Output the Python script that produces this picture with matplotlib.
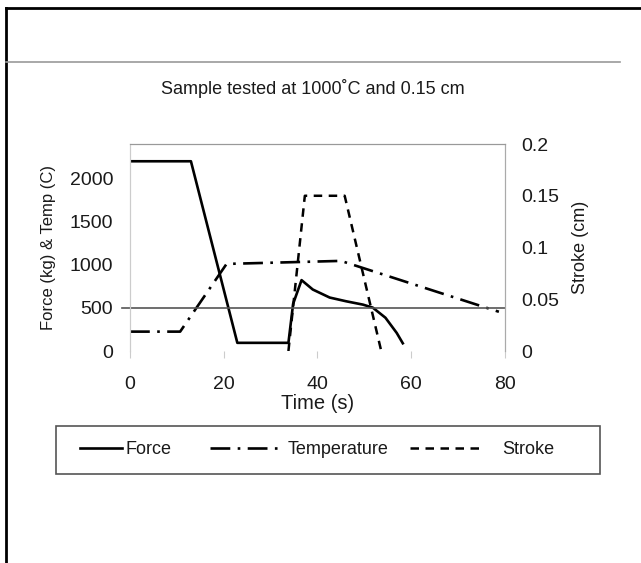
import matplotlib
matplotlib.use("Agg")
import matplotlib.pyplot as plt
from matplotlib.lines import Line2D
from matplotlib.patches import Rectangle

plt.rcParams['font.family'] = ['Liberation Sans', 'DejaVu Sans']

# data
force_t = [0, 13, 22.9, 33.8, 34.8, 36.6, 39, 42.6, 46.1, 49.7, 51.8, 54.5, 56.9, 58.2]
force_kg = [2200, 2200, 95, 95, 547, 822, 713, 620, 577, 538, 503, 386, 210, 90]

temp_t = [0, 10.7, 20.6, 45, 78.7]
temp_c = [225, 225, 1010, 1045, 455]

stroke_t = [33.8, 37.3, 45.8, 53.6]
stroke_cm = [0, 0.15, 0.15, 0]

left_ticks = [0, 500, 1000, 1500, 2000]
right_ticks = [0, 0.05, 0.1, 0.15, 0.2]
right_labels = ["0", "0.05", "0.1", "0.15", "0.2"]
x_ticks = [0, 20, 40, 60, 80]

txt = '#1a1a1a'

fig = plt.figure(figsize=(6.41, 5.63), dpi=100)
ax = fig.add_axes([0.2028, 0.3765, 0.585, 0.3677])
ax2 = ax.twinx()

l1, = ax.plot(force_t, force_kg, color='black', lw=1.9, label='Force')
l2, = ax.plot(temp_t, temp_c, color='black', lw=1.9, dashes=(7.5, 2.8, 1, 2.8),
              label='Temperature')
l3, = ax2.plot(stroke_t, stroke_cm, color='black', lw=1.8, dashes=(3.4, 2.6),
               label='Stroke')

# horizontal reference line at 500
ax.plot([-0.02, 1], [500 / 2400, 500 / 2400], transform=ax.transAxes,
        color='#555555', lw=1.2, clip_on=False)

ax.set_xlim(0, 80)
ax.set_ylim(0, 2400)
ax2.set_ylim(0, 0.2)
ax.set_xticks(x_ticks)
ax.set_yticks(left_ticks)
ax2.set_yticks(right_ticks)
ax2.set_yticklabels(right_labels)

for a in (ax, ax2):
    a.spines['bottom'].set_visible(False)
    a.spines['top'].set_color('#999999')
    a.spines['left'].set_color('#cccccc')
    a.spines['right'].set_color('#aaaaaa')
    a.set_facecolor('none')

ax.tick_params(axis='x', length=5, color='#cccccc', labelsize=14, pad=13,
               labelcolor=txt)
ax.tick_params(axis='y', length=0, labelsize=14, pad=12, labelcolor=txt)
ax2.tick_params(axis='y', length=0, labelsize=14, pad=12, labelcolor=txt)

ax.set_xlabel('Time (s)', fontsize=14.5, labelpad=1, color=txt)
ax.set_ylabel('Force (kg) & Temp (C)', fontsize=12, labelpad=10, color=txt)
ax2.set_ylabel('Stroke (cm)', fontsize=13, labelpad=9, color=txt)

fig.text(0.488, 0.843, 'Sample tested at 1000˚C and 0.15 cm', ha='center',
         va='center', fontsize=13, color=txt)

# legend: box drawn separately, entries placed like the Excel legend
fig.add_artist(Rectangle((0.0874, 0.158), 0.849, 0.085, transform=fig.transFigure,
                         facecolor='white', edgecolor='#555555', lw=1.2, zorder=1))
legend_items = [(l1, 'Force', 0.1255, 2.3, 0.2),
                (l2, 'Temperature', 0.327, 3.8, 0.5),
                (l3, 'Stroke', 0.64, 3.9, 1.2)]
for handle, name, xpos, hl, tp in legend_items:
    lg = fig.legend([handle], [name], loc='center left',
                    bbox_to_anchor=(xpos, 0.2015), fontsize=13,
                    handlelength=hl, handletextpad=tp, frameon=False,
                    borderpad=0, borderaxespad=0)
    lg.set_zorder(2)
    for t in lg.get_texts():
        t.set_color(txt)

# page border lines of the scan
fig.add_artist(Line2D([0.009, 1], [0.986, 0.986], color='black', lw=2))
fig.add_artist(Line2D([0.009, 0.009], [0, 0.986], color='black', lw=2))
fig.add_artist(Line2D([0.009, 0.967], [0.89, 0.89], color='#999999', lw=1.2))

fig.savefig('out.png', dpi=100)
